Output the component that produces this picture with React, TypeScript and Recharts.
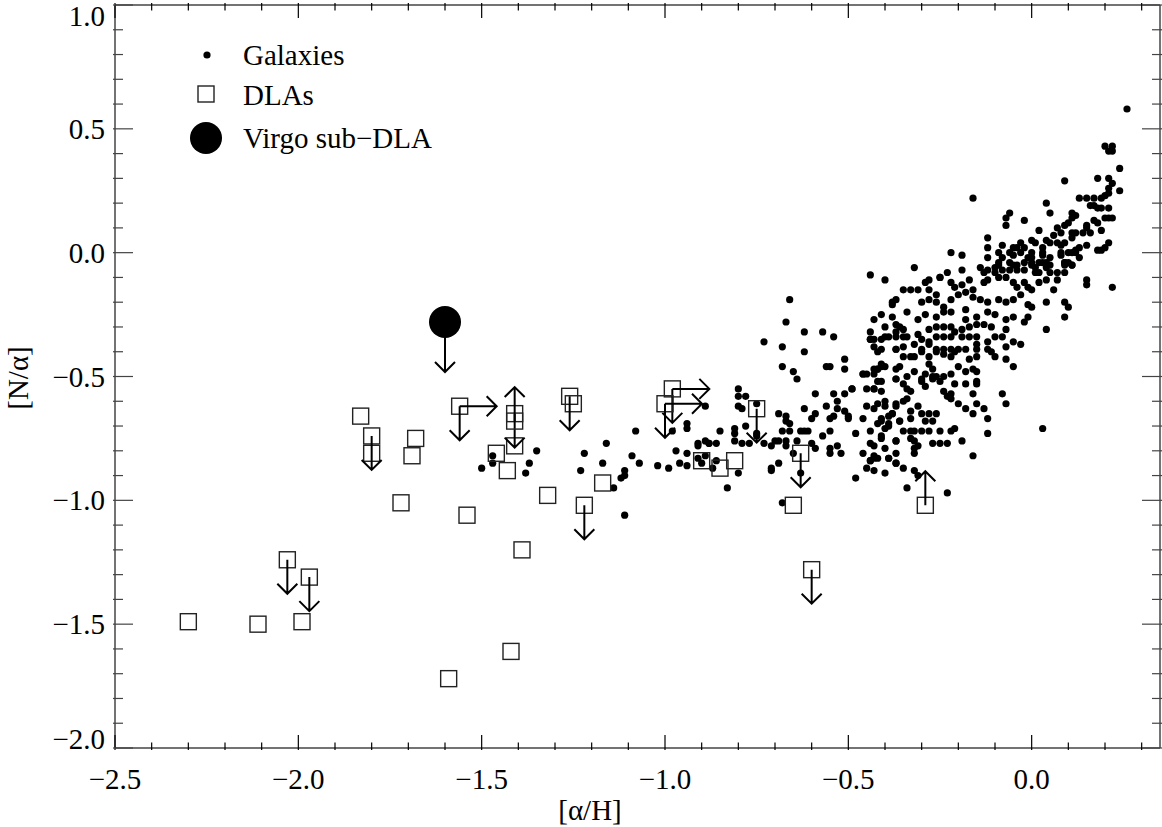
import React from "react";
import { ScatterChart, Scatter, XAxis, YAxis } from "recharts";

// Galaxy abundances: [alpha/H, N/alpha]
const galaxies: [number, number][] = [
  [-1.5, -0.87], [-1.47, -0.82], [-1.47, -0.85], [-1.37, -0.85], [-1.38, -0.89], [-1.35, -0.8],
  [-1.22, -0.81], [-1.23, -0.88], [-1.16, -0.77], [-1.17, -0.85], [-1.14, -0.95], [-1.12, -0.91],
  [-1.11, -0.9], [-1.11, -0.88], [-1.09, -0.82], [-1.08, -0.72], [-1.07, -0.85], [-1.11, -1.06],
  [-1.02, -0.86], [-0.99, -0.87], [-0.97, -0.8], [-0.96, -0.85], [-0.94, -0.86], [-0.94, -0.81],
  [-0.94, -0.71], [-0.94, -0.69], [-0.98, -0.72], [-0.89, -0.62], [-0.91, -0.78], [-0.91, -0.77],
  [-0.89, -0.76], [-0.88, -0.77], [-0.86, -0.77], [-0.85, -0.72], [-0.91, -0.83], [-0.89, -0.82],
  [-0.9, -0.85], [-0.87, -0.87], [-0.86, -0.84], [-0.88, -0.77],
  [-0.66, -0.19], [-0.67, -0.28], [-0.73, -0.36], [-0.62, -0.32], [-0.57, -0.32], [-0.54, -0.34],
  [-0.68, -0.38], [-0.62, -0.4], [-0.68, -0.46], [-0.65, -0.48], [-0.64, -0.51], [-0.56, -0.46],
  [-0.51, -0.43], [-0.51, -0.47], [-0.49, -0.55], [-0.8, -0.55], [-0.8, -0.58], [-0.78, -0.58],
  [-0.8, -0.62], [-0.79, -0.63], [-0.75, -0.61], [-0.78, -0.7], [-0.81, -0.71], [-0.81, -0.73],
  [-0.81, -0.76], [-0.79, -0.77], [-0.77, -0.77], [-0.73, -0.77], [-0.75, -0.74], [-0.69, -0.65],
  [-0.67, -0.66], [-0.67, -0.68], [-0.66, -0.69], [-0.68, -0.72], [-0.66, -0.72], [-0.63, -0.72],
  [-0.62, -0.72], [-0.69, -0.76], [-0.7, -0.76], [-0.71, -0.78], [-0.67, -0.76], [-0.67, -0.78],
  [-0.64, -0.76], [-0.6, -0.77], [-0.59, -0.79], [-0.65, -0.81], [-0.57, -0.74], [-0.55, -0.72],
  [-0.56, -0.62], [-0.59, -0.57], [-0.54, -0.57], [-0.51, -0.57], [-0.53, -0.6], [-0.53, -0.63],
  [-0.51, -0.64], [-0.5, -0.66], [-0.54, -0.66], [-0.55, -0.67], [-0.6, -0.67], [-0.59, -0.65],
  [-0.62, -0.63], [-0.55, -0.79], [-0.55, -0.81], [-0.53, -0.78], [-0.52, -0.81], [-0.48, -0.73],
  [-0.46, -0.67], [-0.45, -0.62], [-0.43, -0.63], [-0.45, -0.55], [-0.43, -0.55], [-0.41, -0.56],
  [-0.45, -0.49], [-0.43, -0.49], [-0.42, -0.52], [-0.43, -0.47], [-0.42, -0.47], [-0.41, -0.46],
  [-0.41, -0.45], [-0.43, -0.38], [-0.42, -0.4], [-0.41, -0.39], [-0.44, -0.35], [-0.43, -0.35],
  [-0.41, -0.35], [-0.44, -0.32], [-0.43, -0.27], [-0.41, -0.25], [-0.4, -0.3], [-0.4, -0.11],
  [-0.44, -0.72], [-0.44, -0.77], [-0.46, -0.81], [-0.44, -0.84], [-0.43, -0.82], [-0.42, -0.83],
  [-0.45, -0.87], [-0.43, -0.88], [-0.4, -0.89], [-0.48, -0.91], [-0.41, -0.74], [-0.42, -0.69],
  [-0.41, -0.67], [-0.4, -0.71], [-0.39, -0.66], [-0.4, -0.6], [-0.4, -0.79], [-0.39, -0.83],
  [-0.8, -0.89], [-0.83, -0.95], [-0.68, -1.01], [-0.71, -0.87], [-0.71, -0.88], [-0.69, -0.85],
  [-0.63, -0.89], [-0.75, -0.73], [-0.44, -0.09], [-0.37, -0.19], [-0.38, -0.21], [-0.37, -0.29],
  [-0.44, -0.35], [-0.39, -0.34], [-0.37, -0.32], [-0.37, -0.39], [-0.55, -0.46], [-0.46, -0.49],
  [-0.37, -0.47], [-0.37, -0.51], [-0.37, -0.61], [-0.38, -0.65], [-0.36, -0.68], [-0.61, -0.72],
  [-0.37, -0.76], [-0.37, -0.81], [-0.37, -0.85],
  [0.26, 0.58], [0.2, 0.43], [0.22, 0.43], [0.21, 0.41], [0.22, 0.41], [0.24, 0.34], [0.18, 0.3],
  [0.21, 0.3], [0.22, 0.28], [0.24, 0.25], [0.21, 0.26], [0.09, 0.29], [0.13, 0.22], [0.15, 0.22],
  [0.17, 0.22], [0.19, 0.22], [0.2, 0.23], [0.21, 0.24], [0.16, 0.19], [0.17, 0.19], [0.18, 0.18],
  [0.19, 0.18], [0.21, 0.18], [0.2, 0.14], [0.21, 0.14], [0.22, 0.14], [0.04, 0.2], [0.05, 0.16],
  [0.11, 0.16], [0.12, 0.15], [0.11, 0.14], [-0.16, 0.22], [-0.06, 0.16], [-0.07, 0.14],
  [-0.07, 0.11], [-0.02, 0.13], [0.09, 0.11], [0.1, 0.12], [0.07, 0.1], [0.17, 0.13], [0.18, 0.12],
  [0.19, 0.09], [0.15, 0.11], [0.15, 0.1], [0.14, 0.08], [0.16, 0.08], [0.11, 0.08], [0.12, 0.08],
  [0.02, 0.09], [0.06, 0.07], [0.08, 0.08], [0.11, 0.06], [0.04, 0.05], [0.05, 0.04], [0.07, 0.04],
  [0.08, 0.03], [0.09, 0.04], [0.0, 0.05], [0.01, 0.04], [0.03, 0.02], [-0.03, 0.04], [-0.04, 0.02],
  [-0.05, 0.02], [-0.08, 0.03], [-0.12, 0.06], [-0.12, 0.02], [-0.12, -0.02], [-0.09, 0.0],
  [-0.06, 0.0], [-0.05, -0.01], [-0.03, 0.0], [-0.02, 0.02], [0.0, 0.0], [-0.01, -0.02],
  [0.03, 0.0], [0.04, -0.04], [0.04, -0.06], [0.08, 0.0], [0.09, -0.04], [0.09, -0.05], [0.1, 0.0],
  [0.12, 0.01], [0.13, 0.02], [0.15, 0.03], [0.12, 0.0], [0.13, -0.02], [0.11, -0.05], [0.19, 0.01],
  [0.21, 0.04], [0.2, 0.02], [-0.22, 0.0], [-0.19, -0.01], [-0.19, -0.07], [-0.23, -0.08],
  [-0.25, -0.1], [-0.28, -0.11], [-0.32, -0.06], [-0.14, -0.06], [-0.13, -0.08], [-0.12, -0.07],
  [-0.1, -0.08], [-0.09, -0.04], [-0.08, -0.07], [-0.06, -0.07], [-0.04, -0.07], [-0.04, -0.05],
  [-0.02, -0.07], [0.0, -0.04], [0.01, -0.06], [0.03, -0.04], [0.01, -0.08], [0.02, -0.08],
  [0.05, -0.08], [0.07, -0.08], [0.09, -0.08], [0.15, -0.11],
  [-0.08, -0.02], [0.0, -0.02], [0.03, -0.01], [0.05, -0.02], [0.08, -0.01], [0.11, 0.0], [0.18, 0.01],
  [-0.29, -0.12], [-0.25, -0.1], [-0.1, -0.06], [-0.09, -0.05], [-0.06, -0.04], [-0.05, -0.05],
  [-0.02, -0.04], [0.0, -0.05], [0.02, -0.04], [0.05, -0.05], [0.09, -0.04], [0.1, -0.04],
  [0.11, -0.05], [0.15, -0.13], [0.22, -0.14], [-0.35, -0.15], [-0.33, -0.15], [-0.31, -0.15],
  [-0.28, -0.15], [-0.22, -0.12], [-0.21, -0.14], [-0.19, -0.13], [-0.17, -0.11], [-0.16, -0.15],
  [-0.13, -0.12], [-0.12, -0.11], [-0.09, -0.1], [-0.07, -0.1], [-0.05, -0.12], [-0.04, -0.14],
  [-0.02, -0.12], [-0.01, -0.14], [0.0, -0.15], [0.02, -0.12], [0.04, -0.11], [0.06, -0.15],
  [0.07, -0.11], [-0.38, -0.2], [-0.3, -0.2], [-0.28, -0.19], [-0.26, -0.17], [-0.26, -0.2],
  [-0.24, -0.22], [-0.22, -0.19], [-0.2, -0.17], [-0.18, -0.16], [-0.16, -0.18], [-0.14, -0.19],
  [-0.12, -0.2], [-0.09, -0.19], [-0.07, -0.2], [-0.05, -0.19], [-0.03, -0.17], [-0.01, -0.21],
  [0.0, -0.22], [0.04, -0.2], [0.09, -0.2], [0.1, -0.22], [0.09, -0.26], [-0.38, -0.26],
  [-0.34, -0.24], [-0.31, -0.27], [-0.29, -0.25], [-0.26, -0.26], [-0.24, -0.24], [-0.22, -0.24],
  [-0.18, -0.23], [-0.18, -0.27], [-0.15, -0.26], [-0.12, -0.24], [-0.1, -0.25], [-0.07, -0.27],
  [-0.05, -0.26], [-0.02, -0.28], [-0.01, -0.26], [0.04, -0.31], [-0.36, -0.3], [-0.35, -0.31],
  [-0.31, -0.33], [-0.28, -0.31], [-0.26, -0.3], [-0.24, -0.3], [-0.22, -0.3], [-0.19, -0.31],
  [-0.17, -0.3], [-0.15, -0.29], [-0.13, -0.29], [-0.11, -0.3], [-0.07, -0.31], [-0.4, -0.34],
  [-0.37, -0.34], [-0.35, -0.34], [-0.34, -0.34], [-0.3, -0.35], [-0.28, -0.36], [-0.26, -0.34],
  [-0.24, -0.34], [-0.22, -0.34], [-0.21, -0.32], [-0.19, -0.34], [-0.17, -0.34], [-0.15, -0.34],
  [-0.12, -0.36], [-0.1, -0.34], [-0.08, -0.34], [-0.05, -0.36], [-0.03, -0.37], [-0.07, -0.38],
  [-0.37, -0.39], [-0.35, -0.38], [-0.32, -0.37], [-0.3, -0.39], [-0.28, -0.37], [-0.26, -0.39],
  [-0.24, -0.39], [-0.22, -0.39], [-0.21, -0.4], [-0.2, -0.39], [-0.18, -0.39], [-0.15, -0.37],
  [-0.15, -0.39], [-0.12, -0.39], [-0.11, -0.4], [-0.1, -0.42], [-0.07, -0.43], [-0.05, -0.46],
  [-0.15, -0.42], [-0.17, -0.43], [-0.2, -0.46], [-0.22, -0.42], [-0.24, -0.41], [-0.26, -0.4],
  [-0.28, -0.42], [-0.3, -0.4], [-0.32, -0.42], [-0.33, -0.42], [-0.35, -0.42], [-0.4, -0.46],
  [-0.42, -0.47], [-0.36, -0.46], [-0.46, -0.49], [-0.41, -0.52], [-0.37, -0.51], [-0.34, -0.5],
  [-0.32, -0.48], [-0.3, -0.51], [-0.29, -0.49], [-0.27, -0.5], [-0.26, -0.5], [-0.24, -0.5],
  [-0.22, -0.49], [-0.28, -0.45], [-0.27, -0.47], [-0.18, -0.48], [-0.16, -0.47], [-0.15, -0.48],
  [-0.15, -0.52], [-0.43, -0.55], [-0.49, -0.55], [-0.35, -0.53], [-0.34, -0.55], [-0.33, -0.56],
  [-0.3, -0.52], [-0.29, -0.54], [-0.27, -0.51], [-0.25, -0.52], [-0.24, -0.56], [-0.22, -0.57],
  [-0.21, -0.53], [-0.18, -0.53], [-0.16, -0.57], [-0.15, -0.53], [-0.08, -0.57], [-0.07, -0.61],
  [0.03, -0.71], [-0.23, -0.58], [-0.22, -0.59], [-0.2, -0.61], [-0.18, -0.63], [-0.16, -0.65],
  [-0.15, -0.61], [-0.13, -0.63], [-0.12, -0.67], [-0.12, -0.73], [-0.19, -0.76], [-0.16, -0.82],
  [-0.23, -0.97], [-0.42, -0.61], [-0.4, -0.62], [-0.37, -0.62], [-0.35, -0.6], [-0.34, -0.59],
  [-0.31, -0.62], [-0.3, -0.65], [-0.33, -0.64], [-0.41, -0.68], [-0.41, -0.75], [-0.39, -0.69],
  [-0.38, -0.65], [-0.36, -0.68], [-0.39, -0.7], [-0.35, -0.72], [-0.33, -0.67], [-0.33, -0.72],
  [-0.32, -0.72], [-0.3, -0.72], [-0.28, -0.65], [-0.26, -0.65], [-0.29, -0.68], [-0.27, -0.68],
  [-0.28, -0.72], [-0.25, -0.72], [-0.21, -0.71], [-0.22, -0.72], [-0.37, -0.76], [-0.33, -0.75],
  [-0.32, -0.76], [-0.31, -0.78], [-0.27, -0.77], [-0.25, -0.77], [-0.23, -0.77], [-0.32, -0.79],
  [-0.32, -0.81], [-0.43, -0.78], [-0.44, -0.84], [-0.43, -0.83], [-0.39, -0.83], [-0.37, -0.85],
  [-0.35, -0.87], [-0.32, -0.88], [-0.31, -0.9], [-0.34, -0.95], [-0.5, -0.67],
];

// DLA measurements
const dlaPlain: [number, number][] = [
  [-2.3, -1.49], [-2.11, -1.5], [-1.99, -1.49], [-1.72, -1.01], [-1.54, -1.06], [-1.39, -1.2],
  [-1.42, -1.61], [-1.59, -1.72], [-1.32, -0.98], [-1.17, -0.93], [-1.46, -0.81], [-1.43, -0.88],
  [-1.83, -0.66], [-1.8, -0.81], [-1.68, -0.75], [-1.69, -0.82], [-1.25, -0.61], [-0.9, -0.84],
  [-0.85, -0.87], [-0.81, -0.84], [-0.65, -1.02], [-1.41, -0.78],
];
// upper limits on N
const dlaUpper: [number, number][] = [
  [-2.03, -1.24], [-1.97, -1.31], [-1.22, -1.02], [-1.26, -0.58], [-1.8, -0.74], [-0.75, -0.63],
  [-0.63, -0.81], [-0.6, -1.28], [-1.41, -0.65],
];
// lower limits on N
const dlaLower: [number, number][] = [[-0.29, -1.02], [-1.41, -0.68]];
// lower limit on alpha, upper limit on N
const dlaBoth: [number, number][] = [[-1.56, -0.62], [-0.98, -0.55], [-1.0, -0.61]];
const virgo: [number, number][] = [[-1.6, -0.28]];

const xMajor = [-2.5, -2.0, -1.5, -1.0, -0.5, 0.0];
const xMinor = [
  -2.4, -2.3, -2.2, -2.1, -1.9, -1.8, -1.7, -1.6, -1.4, -1.3, -1.2, -1.1,
  -0.9, -0.8, -0.7, -0.6, -0.4, -0.3, -0.2, -0.1, 0.1, 0.2, 0.3,
];
const yMajor = [-2.0, -1.5, -1.0, -0.5, 0.0, 0.5, 1.0];
const yMinor = [
  -1.9, -1.8, -1.7, -1.6, -1.4, -1.3, -1.2, -1.1, -0.9, -0.8, -0.7, -0.6,
  -0.4, -0.3, -0.2, -0.1, 0.1, 0.2, 0.3, 0.4, 0.6, 0.7, 0.8, 0.9,
];

const toPts = (a: [number, number][]) => a.map(([x, y]) => ({ x, y }));

const FONT = "'Liberation Serif', 'Times New Roman', serif";
const FS = 29;
const INK = "#000";
const AXIS = "#444";
const isMajor = (list: number[], v: number) => list.some((m) => Math.abs(m - v) < 1e-6);
const fmt = (v: number) => v.toFixed(1).replace("-", "\u2212");

function arrow(cx: number, cy: number, dx: number, dy: number) {
  const ex = cx + dx;
  const ey = cy + dy;
  const len = Math.hypot(dx, dy);
  const ux = dx / len;
  const uy = dy / len;
  const h = 10;
  return (
    <path
      d={`M${cx},${cy}L${ex},${ey}M${ex - h * ux - h * uy},${ey - h * uy + h * ux}L${ex},${ey}L${ex - h * ux + h * uy},${ey - h * uy - h * ux}`}
      stroke={INK}
      strokeWidth={2}
      fill="none"
    />
  );
}

const box = (cx: number, cy: number) => (
  <rect x={cx - 8} y={cy - 8} width={16} height={16} fill="none" stroke="#222" strokeWidth={1.4} />
);

// eslint-disable-next-line @typescript-eslint/no-explicit-any
const drawGalaxy = (p: any) => <circle cx={p.cx} cy={p.cy} r={3.6} fill={INK} />;
// eslint-disable-next-line @typescript-eslint/no-explicit-any
const drawPlain = (p: any) => box(p.cx, p.cy);
// eslint-disable-next-line @typescript-eslint/no-explicit-any
const drawUpper = (p: any) => (
  <g>
    {box(p.cx, p.cy)}
    {arrow(p.cx, p.cy, 0, 34)}
  </g>
);
// eslint-disable-next-line @typescript-eslint/no-explicit-any
const drawLower = (p: any) => (
  <g>
    {box(p.cx, p.cy)}
    {arrow(p.cx, p.cy, 0, -34)}
  </g>
);
// eslint-disable-next-line @typescript-eslint/no-explicit-any
const drawBoth = (p: any) => (
  <g>
    {box(p.cx, p.cy)}
    {arrow(p.cx, p.cy, 0, 34)}
    {arrow(p.cx, p.cy, 37, 0)}
  </g>
);
// eslint-disable-next-line @typescript-eslint/no-explicit-any
const drawVirgo = (p: any) => (
  <g>
    <circle cx={p.cx} cy={p.cy} r={16} fill={INK} />
    {arrow(p.cx, p.cy, 0, 50)}
  </g>
);

// IDL-style inward ticks
// eslint-disable-next-line @typescript-eslint/no-explicit-any
function XTick(props: any) {
  const { x, y, payload, side } = props;
  const major = isMajor(xMajor, payload.value);
  const len = major ? 15 : 7.5;
  const dir = side === "bottom" ? -1 : 1;
  return (
    <g>
      <line x1={x} x2={x} y1={y} y2={y + dir * len} stroke={INK} strokeWidth={1.2} />
      {side === "bottom" && major && (
        <text x={x} y={y + 39} textAnchor="middle" fontFamily={FONT} fontSize={FS} fill={INK}>
          {fmt(payload.value)}
        </text>
      )}
    </g>
  );
}

// labels at the ends of the range are kept inside the frame
// eslint-disable-next-line @typescript-eslint/no-explicit-any
function YTick(props: any) {
  const { x, y, payload, side } = props;
  const major = isMajor(yMajor, payload.value);
  const len = major ? 20 : 10;
  const dir = side === "left" ? 1 : -1;
  const base = Math.min(Math.max(y + 10, 26), 749);
  return (
    <g>
      <line x1={x} x2={x + dir * len} y1={y} y2={y} stroke={AXIS} strokeWidth={1.2} />
      {side === "left" && major && (
        <text x={x - 8} y={base} textAnchor="end" fontFamily={FONT} fontSize={FS} fill={INK}>
          {fmt(payload.value)}
        </text>
      )}
    </g>
  );
}

const xTicks = [...xMajor, ...xMinor];
const yTicks = [...yMajor, ...yMinor];
const axisLine = { stroke: AXIS, strokeWidth: 1.5 };

export default function App() {
  return (
    <div style={{ position: "absolute", left: 0, top: 0, width: 1162, height: 827, background: "#fff" }}>
      <ScatterChart width={1162} height={827} margin={{ top: 0, right: 0, bottom: 0, left: 0 }}>
        <XAxis
          xAxisId="b"
          type="number"
          dataKey="x"
          orientation="bottom"
          domain={[-2.5, 0.35]}
          ticks={xTicks}
          interval={0}
          height={79}
          tickSize={0}
          tickLine={false}
          axisLine={axisLine}
          allowDataOverflow
          tick={(p) => <XTick {...p} side="bottom" />}
        />
        <XAxis
          xAxisId="t"
          type="number"
          dataKey="x"
          orientation="top"
          domain={[-2.5, 0.35]}
          ticks={xTicks}
          interval={0}
          height={5}
          tickSize={0}
          tickLine={false}
          axisLine={axisLine}
          allowDataOverflow
          tick={(p) => <XTick {...p} side="top" />}
        />
        <YAxis
          yAxisId="l"
          type="number"
          dataKey="y"
          orientation="left"
          domain={[-2, 1]}
          ticks={yTicks}
          interval={0}
          width={115}
          tickSize={0}
          tickLine={false}
          axisLine={axisLine}
          allowDataOverflow
          tick={(p) => <YTick {...p} side="left" />}
        />
        <YAxis
          yAxisId="r"
          type="number"
          dataKey="y"
          orientation="right"
          domain={[-2, 1]}
          ticks={yTicks}
          interval={0}
          width={2}
          tickSize={0}
          tickLine={false}
          axisLine={axisLine}
          allowDataOverflow
          tick={(p) => <YTick {...p} side="right" />}
        />
        <Scatter xAxisId="b" yAxisId="l" data={toPts(galaxies)} shape={drawGalaxy} isAnimationActive={false} />
        <Scatter xAxisId="b" yAxisId="l" data={toPts(dlaPlain)} shape={drawPlain} isAnimationActive={false} />
        <Scatter xAxisId="b" yAxisId="l" data={toPts(dlaUpper)} shape={drawUpper} isAnimationActive={false} />
        <Scatter xAxisId="b" yAxisId="l" data={toPts(dlaLower)} shape={drawLower} isAnimationActive={false} />
        <Scatter xAxisId="b" yAxisId="l" data={toPts(dlaBoth)} shape={drawBoth} isAnimationActive={false} />
        <Scatter xAxisId="b" yAxisId="l" data={toPts(virgo)} shape={drawVirgo} isAnimationActive={false} />
        <Scatter xAxisId="t" yAxisId="r" data={toPts(virgo)} shape={() => <g />} isAnimationActive={false} />
      </ScatterChart>
      <svg
        width={1162}
        height={827}
        style={{ position: "absolute", left: 0, top: 0, pointerEvents: "none" }}
        fontFamily={FONT}
        fontSize={FS}
      >
        <circle cx={207} cy={55} r={3.6} fill={INK} />
        <text x={243} y={65} fill={INK}>Galaxies</text>
        <rect x={198} y={86} width={16} height={16} fill="none" stroke="#222" strokeWidth={1.4} />
        <text x={243} y={105} fill={INK}>DLAs</text>
        <circle cx={206} cy={138} r={16} fill={INK} />
        <text x={243} y={148} fill={INK}>Virgo sub{"\u2212"}DLA</text>
        <text x={590} y={820} textAnchor="middle" fill={INK}>[α/H]</text>
        <text x={28} y={378} textAnchor="middle" transform="rotate(-90 28 378)" fill={INK}>[N/α]</text>
      </svg>
    </div>
  );
}
